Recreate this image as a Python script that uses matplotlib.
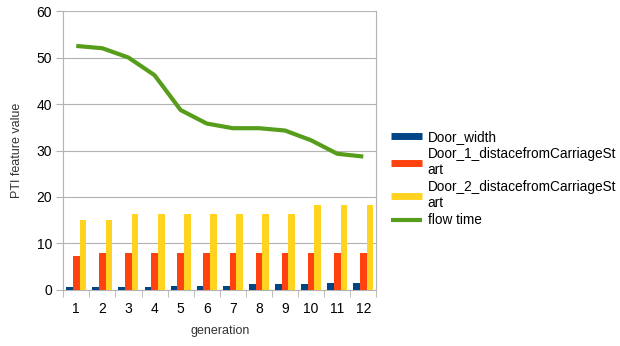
import numpy as np
import matplotlib.pyplot as plt
from matplotlib.lines import Line2D

plt.rcParams['font.family'] = ['Liberation Sans', 'DejaVu Sans']

generations = ['1', '2', '3', '4', '5', '6', '7', '8', '9', '10', '11', '12']
door_width = [0.7, 0.7, 0.7, 0.7, 0.95, 0.95, 0.95, 1.2, 1.2, 1.2, 1.5, 1.5]
door1_dist = [7.2, 7.9, 7.9, 7.9, 7.9, 7.9, 7.9, 7.9, 7.9, 7.9, 7.9, 7.9]
door2_dist = [15.0, 15.0, 16.4, 16.4, 16.4, 16.4, 16.4, 16.4, 16.4, 18.2, 18.2, 18.2]
flow_time = [52.5, 52.0, 50.0, 46.2, 38.7, 35.8, 34.8, 34.8, 34.3, 32.2, 29.3, 28.7]

c_blue = '#004586'
c_red = '#ff420e'
c_yellow = '#ffd320'
c_green = '#579d1c'

fig = plt.figure(figsize=(6.2, 3.46), dpi=100)
ax = fig.add_axes([0.102, 0.162, 0.505, 0.806])

x = np.arange(len(generations))
w = 0.255
ax.bar(x - w, door_width, w, color=c_blue, zorder=3)
ax.bar(x, door1_dist, w, color=c_red, zorder=3)
ax.bar(x + w, door2_dist, w, color=c_yellow, zorder=3)
ax.plot(x, flow_time, color=c_green, lw=3, solid_joinstyle='round',
        solid_capstyle='butt', zorder=4)

ax.set_xlim(-0.5, len(generations) - 0.5)
ax.set_ylim(0, 60)
ax.set_yticks(range(0, 61, 10))
ax.yaxis.grid(True, color='#b3b3b3', lw=0.8, zorder=0)

# category labels centred, tick marks on the boundaries
ax.set_xticks(x)
ax.set_xticklabels(generations, fontsize=10)
ax.tick_params(axis='x', length=0, pad=9)
ax.set_xticks(np.arange(-0.5, len(generations)), minor=True)
ax.tick_params(axis='x', which='minor', length=5, color='#b3b3b3')
ax.tick_params(axis='y', length=5, color='#b3b3b3', labelsize=10, pad=3)

for s in ['left', 'bottom', 'right']:
    ax.spines[s].set_color('#b3b3b3')
ax.spines['top'].set_visible(False)

ax.set_xlabel('generation', fontsize=9, color='#333333', labelpad=6)
ax.set_ylabel('PTI feature value', fontsize=9, color='#333333', labelpad=10)

handles = [
    Line2D([], [], color=c_blue, lw=5, solid_capstyle='butt'),
    Line2D([], [], color=c_red, lw=5, solid_capstyle='butt'),
    Line2D([], [], color=c_yellow, lw=5, solid_capstyle='butt'),
    Line2D([], [], color=c_green, lw=3, solid_capstyle='butt'),
]
labels = ['Door_width', 'Door_1_distacefromCarriageSt\nart',
          'Door_2_distacefromCarriageSt\nart', 'flow time']
fig.legend(handles, labels, loc='upper left', bbox_to_anchor=(0.622, 0.64),
           frameon=False, fontsize=9.8, handlelength=2.3, handletextpad=0.4,
           labelspacing=0.22, borderaxespad=0)

fig.savefig('out.png', dpi=100)
